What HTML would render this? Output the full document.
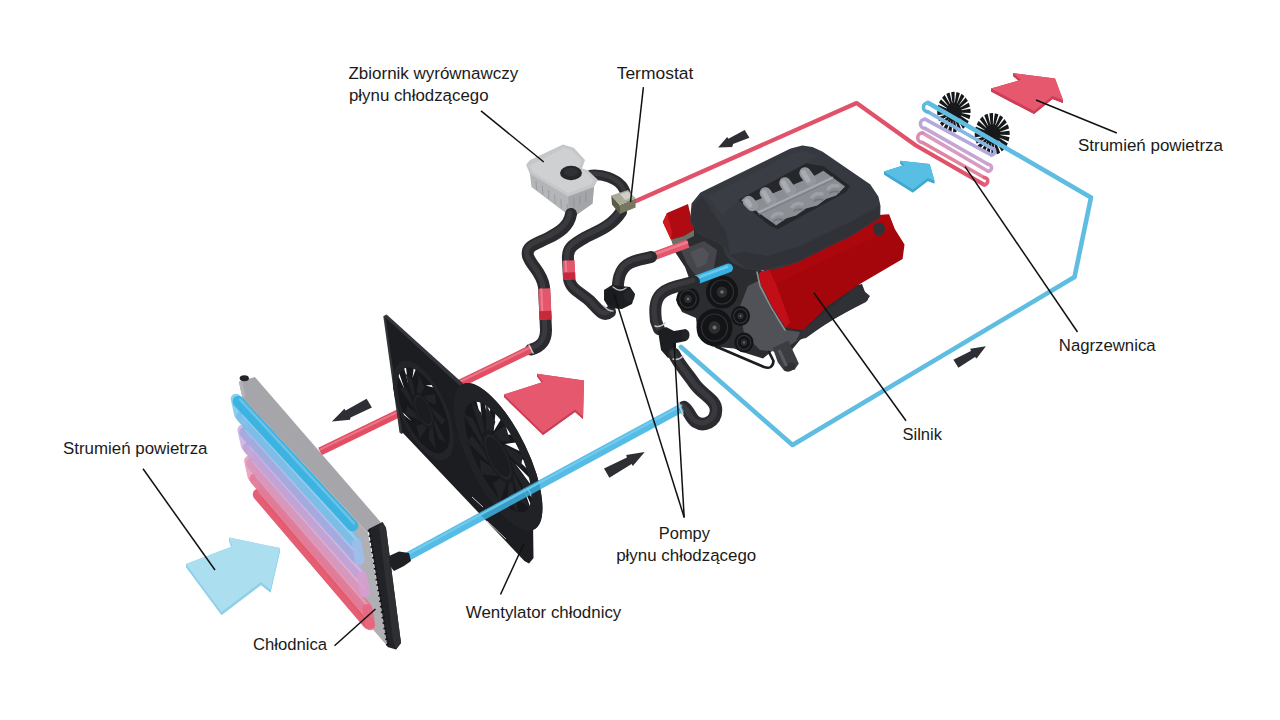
<!DOCTYPE html>
<html lang="pl"><head><meta charset="utf-8"><title>Układ chłodzenia silnika</title>
<style>html,body{margin:0;padding:0;background:#fff}svg{display:block}</style></head>
<body><svg width="1280" height="720" viewBox="0 0 1280 720">
<rect width="1280" height="720" fill="#ffffff"/>
<path d="M636,201 L856.6,103 L915.6,145.3 L984.2,184.7" fill="none" stroke="#e2516a" stroke-width="4.20" stroke-linecap="round" stroke-linejoin="round" />
<ellipse cx="953.9" cy="112.0" rx="16.7" ry="20.3" fill="#17181a" />
<polygon points="961.6,112.8 971.9,113.0 971.7,115.4 961.5,113.1" fill="#ffffff" />
<polygon points="961.0,115.6 970.8,119.7 970.0,121.9 960.9,115.9" fill="#ffffff" />
<polygon points="959.7,118.1 968.0,125.7 966.7,127.4 959.5,118.3" fill="#ffffff" />
<polygon points="957.9,120.0 963.8,130.3 962.1,131.5 957.6,120.2" fill="#ffffff" />
<polygon points="955.7,121.1 958.7,133.1 956.8,133.6 955.4,121.2" fill="#ffffff" />
<polygon points="953.3,121.3 953.1,133.9 951.1,133.7 953.0,121.3" fill="#ffffff" />
<polygon points="950.9,120.6 947.5,132.5 945.8,131.6 950.7,120.5" fill="#ffffff" />
<polygon points="948.9,119.1 942.6,129.1 941.2,127.6 948.7,118.9" fill="#ffffff" />
<polygon points="947.3,116.9 938.8,124.0 937.9,122.0 947.2,116.6" fill="#ffffff" />
<polygon points="946.4,114.2 936.5,117.8 936.1,115.5 946.4,113.8" fill="#ffffff" />
<polygon points="946.2,111.2 935.9,111.0 936.1,108.6 946.3,110.9" fill="#ffffff" />
<polygon points="946.8,108.4 937.0,104.3 937.8,102.1 946.9,108.1" fill="#ffffff" />
<polygon points="948.1,105.9 939.8,98.3 941.1,96.6 948.3,105.7" fill="#ffffff" />
<polygon points="949.9,104.0 944.0,93.7 945.7,92.5 950.2,103.8" fill="#ffffff" />
<polygon points="952.1,102.9 949.1,90.9 951.0,90.4 952.4,102.8" fill="#ffffff" />
<polygon points="954.5,102.7 954.7,90.1 956.7,90.3 954.8,102.7" fill="#ffffff" />
<polygon points="956.9,103.4 960.3,91.5 962.0,92.4 957.1,103.5" fill="#ffffff" />
<polygon points="958.9,104.9 965.2,94.9 966.6,96.4 959.1,105.1" fill="#ffffff" />
<polygon points="960.5,107.1 969.0,100.0 969.9,102.0 960.6,107.4" fill="#ffffff" />
<polygon points="961.4,109.8 971.3,106.2 971.7,108.5 961.4,110.2" fill="#ffffff" />
<ellipse cx="992.2" cy="134.0" rx="17.5" ry="21.0" fill="#17181a" />
<polygon points="1000.2,134.8 1011.1,135.1 1010.9,137.5 1000.2,135.1" fill="#ffffff" />
<polygon points="999.6,137.7 1009.9,142.0 1009.1,144.2 999.5,138.1" fill="#ffffff" />
<polygon points="998.3,140.3 1007.0,148.2 1005.6,150.0 998.1,140.6" fill="#ffffff" />
<polygon points="996.4,142.2 1002.6,152.9 1000.8,154.2 996.1,142.4" fill="#ffffff" />
<polygon points="994.1,143.4 997.2,155.9 995.2,156.4 993.8,143.5" fill="#ffffff" />
<polygon points="991.5,143.6 991.3,156.7 989.3,156.4 991.2,143.6" fill="#ffffff" />
<polygon points="989.1,142.9 985.5,155.2 983.7,154.2 988.8,142.8" fill="#ffffff" />
<polygon points="987.0,141.3 980.4,151.7 978.9,150.1 986.7,141.1" fill="#ffffff" />
<polygon points="985.3,139.0 976.4,146.5 975.4,144.4 985.2,138.7" fill="#ffffff" />
<polygon points="984.4,136.2 974.0,140.0 973.5,137.6 984.3,135.9" fill="#ffffff" />
<polygon points="984.2,133.2 973.3,132.9 973.5,130.5 984.2,132.9" fill="#ffffff" />
<polygon points="984.8,130.3 974.5,126.0 975.3,123.8 984.9,129.9" fill="#ffffff" />
<polygon points="986.1,127.7 977.4,119.8 978.8,118.0 986.3,127.4" fill="#ffffff" />
<polygon points="988.0,125.8 981.8,115.1 983.6,113.8 988.3,125.6" fill="#ffffff" />
<polygon points="990.3,124.6 987.2,112.1 989.2,111.6 990.6,124.5" fill="#ffffff" />
<polygon points="992.9,124.4 993.1,111.3 995.1,111.6 993.2,124.4" fill="#ffffff" />
<polygon points="995.3,125.1 998.9,112.8 1000.7,113.8 995.6,125.2" fill="#ffffff" />
<polygon points="997.4,126.7 1004.0,116.3 1005.5,117.9 997.7,126.9" fill="#ffffff" />
<polygon points="999.1,129.0 1008.0,121.5 1009.0,123.6 999.2,129.3" fill="#ffffff" />
<polygon points="1000.0,131.8 1010.4,128.0 1010.9,130.4 1000.1,132.1" fill="#ffffff" />
<line x1="922.5" y1="142.5" x2="984.2" y2="177.5" stroke="#e0849f" stroke-width="3.60" stroke-linecap="round"/>
<line x1="922.5" y1="132.9" x2="988.0" y2="171.3" stroke="#d79bc4" stroke-width="3.60" stroke-linecap="round"/>
<line x1="925.0" y1="128.4" x2="988.0" y2="164.2" stroke="#c5a4d6" stroke-width="3.60" stroke-linecap="round"/>
<line x1="925.0" y1="119.2" x2="991.3" y2="155.0" stroke="#b3a9dc" stroke-width="3.60" stroke-linecap="round"/>
<line x1="928.0" y1="111.9" x2="991.3" y2="148.0" stroke="#86b6e3" stroke-width="3.60" stroke-linecap="round"/>
<path d="M984.2,177.5 A3.60,3.60 0 0 1 984.2,184.7" fill="none" stroke="#e2607c" stroke-width="3.60" stroke-linecap="round" stroke-linejoin="round" />
<path d="M922.5,132.9 A4.80,4.80 0 0 0 922.5,142.5" fill="none" stroke="#dc8cb2" stroke-width="3.60" stroke-linecap="round" stroke-linejoin="round" />
<path d="M988.0,164.2 A3.55,3.55 0 0 1 988.0,171.3" fill="none" stroke="#cf9fcd" stroke-width="3.60" stroke-linecap="round" stroke-linejoin="round" />
<path d="M925.0,119.2 A4.60,4.60 0 0 0 925.0,128.4" fill="none" stroke="#bba6da" stroke-width="3.60" stroke-linecap="round" stroke-linejoin="round" />
<path d="M991.3,148.0 A3.50,3.50 0 0 1 991.3,155.0" fill="none" stroke="#a3addf" stroke-width="3.60" stroke-linecap="round" stroke-linejoin="round" />
<path d="M928.0,102.8 A4.55,4.55 0 0 0 928.0,111.9" fill="none" stroke="#5cb7e1" stroke-width="3.60" stroke-linecap="round" stroke-linejoin="round" />
<path d="M928,102.8 L1091,197.5 L1074.5,277 L792.5,445 L681,347" fill="none" stroke="#5fbde2" stroke-width="4.60" stroke-linecap="round" stroke-linejoin="round" />
<polygon points="702.0,220.0 692.0,226.0 671.0,238.0 675.0,252.0 685.0,267.0 689.0,278.0 680.0,290.0 676.0,300.0 682.0,312.0 696.0,318.0 698.0,336.0 712.0,346.5 734.0,348.5 747.0,353.5 763.0,358.5 772.0,351.0 790.0,352.0 800.0,340.0 836.0,318.0 868.0,300.0 862.0,284.0 780.0,300.0 760.0,268.0 740.0,248.0" fill="#2b2c30" />
<polygon points="748.0,286.0 760.0,280.0 772.0,312.0 786.0,330.0 800.0,332.0 798.0,340.0 780.0,352.0 760.0,350.0 744.0,334.0 740.0,306.0" fill="#505257" />
<polygon points="681.0,250.0 704.0,241.0 717.0,250.0 714.0,268.0 698.0,278.0 687.0,264.0" fill="#44464b" />
<polygon points="690.0,252.0 703.0,247.0 709.0,254.0 706.0,264.0 697.0,268.0" fill="#505257" />
<polygon points="803.0,330.0 858.0,286.0 870.0,296.0 866.0,302.0 834.0,318.0 806.0,338.0 796.0,340.0" fill="#303136" />
<polygon points="772.7,347.9 788.3,340.6 798.8,363.5 794.6,369.8 784.2,370.8 777.9,362.5" fill="#3c3d42" />
<ellipse cx="789.5" cy="367.2" rx="6.2" ry="4.0" fill="#303135" transform="rotate(-25 789.5 367.2)"/>
<line x1="779.0" y1="350.0" x2="786.5" y2="366.0" stroke="#585a5f" stroke-width="3.00" />
<path d="M716,346.5 L764,367 Q772.5,370 773.5,361 L769,352" fill="none" stroke="#1b1c1f" stroke-width="2.60" stroke-linecap="round" stroke-linejoin="round" />
<ellipse cx="688.0" cy="299.0" rx="11.5" ry="12.0" fill="#131416" />
<ellipse cx="688.0" cy="299.0" rx="8.3" ry="8.6" fill="none" stroke="#303136" stroke-width="1.2"/>
<ellipse cx="688.0" cy="299.0" rx="3.8" ry="4.0" fill="#2c2d31" />
<ellipse cx="688.0" cy="299.0" rx="1.3" ry="1.3" fill="#6f7175" />
<ellipse cx="722.0" cy="292.0" rx="16.0" ry="16.6" fill="#131416" />
<ellipse cx="722.0" cy="292.0" rx="11.5" ry="12.0" fill="none" stroke="#303136" stroke-width="1.2"/>
<ellipse cx="722.0" cy="292.0" rx="5.3" ry="5.6" fill="#2c2d31" />
<ellipse cx="722.0" cy="292.0" rx="1.8" ry="1.8" fill="#6f7175" />
<ellipse cx="714.5" cy="327.5" rx="18.0" ry="18.7" fill="#131416" />
<ellipse cx="714.5" cy="327.5" rx="13.0" ry="13.5" fill="none" stroke="#303136" stroke-width="1.2"/>
<ellipse cx="714.5" cy="327.5" rx="5.9" ry="6.3" fill="#2c2d31" />
<ellipse cx="714.5" cy="327.5" rx="2.0" ry="2.0" fill="#6f7175" />
<ellipse cx="740.5" cy="316.0" rx="9.5" ry="9.9" fill="#131416" />
<ellipse cx="740.5" cy="316.0" rx="6.8" ry="7.1" fill="none" stroke="#303136" stroke-width="1.2"/>
<ellipse cx="740.5" cy="316.0" rx="3.1" ry="3.3" fill="#2c2d31" />
<ellipse cx="740.5" cy="316.0" rx="1.0" ry="1.0" fill="#6f7175" />
<ellipse cx="744.0" cy="342.5" rx="9.5" ry="9.9" fill="#131416" />
<ellipse cx="744.0" cy="342.5" rx="6.8" ry="7.1" fill="none" stroke="#303136" stroke-width="1.2"/>
<ellipse cx="744.0" cy="342.5" rx="3.1" ry="3.3" fill="#2c2d31" />
<ellipse cx="744.0" cy="342.5" rx="1.0" ry="1.0" fill="#6f7175" />
<polygon points="662.8,221.9 667.0,213.0 688.0,204.0 694.0,230.0 684.0,236.0 671.0,239.7" fill="#b00a12" />
<polygon points="662.8,221.9 667.0,213.0 672.0,232.0 671.0,239.7" fill="#d01820" />
<polygon points="671.0,239.7 684.0,236.0 694.0,230.0 694.0,236.0 674.0,246.0" fill="#6d6f6a" />
<polygon points="758.6,273.6 768.4,268.0 879.2,215.0 889.0,214.5 894.8,229.0 904.5,244.5 902.6,259.0 857.8,285.3 826.7,306.7 803.4,330.0 785.9,328.0 772.2,306.7 760.6,283.4" fill="#a5060c" />
<polygon points="768.4,268.0 879.2,215.0 889.0,214.5 894.0,228.0 800.0,272.0 776.0,284.0 766.0,276.0" fill="#ac070d" />
<polygon points="758.6,273.6 768.4,268.0 776.0,284.0 790.0,322.0 785.9,328.0 772.2,306.7 760.6,283.4" fill="#c20e16" />
<path d="M757,272 L760,286 L772,309 L785,330" fill="none" stroke="#8d8f93" stroke-width="1.60" stroke-linecap="round" stroke-linejoin="round" />
<ellipse cx="879.0" cy="229.0" rx="6.0" ry="6.5" fill="#303236" />
<path d="M691.0,221.0 L692.5,204.0 L701.0,193.5 L708.0,190.0 L791.0,149.5 L802.5,146.5 L812.0,148.0 L822.8,153.0 L869.5,185.0 L877.5,197.0 L879.5,206.0 L879.2,217.5 L852.0,234.5 L815.0,252.5 L796.0,262.0 L777.5,267.5 L764.5,269.7 L745.0,267.8 L733.0,262.0 L727.5,256.0 L723.6,246.0 L716.0,241.0 L698.3,232.8 Z" fill="#363940" stroke="#363940" stroke-width="2" stroke-linejoin="round"/>
<polygon points="691.0,221.0 692.5,206.0 702.0,196.0 726.0,232.0 730.0,255.0 723.6,246.0 698.3,232.8" fill="#303237" />
<polygon points="730.0,255.0 745.0,267.8 764.5,269.7 796.0,262.0 852.0,234.5 879.2,217.5 879.5,206.0 850.0,222.0 800.0,246.0 768.0,256.0 744.0,252.0" fill="#303237" />
<polygon points="708.0,196.0 791.0,154.0 803.0,151.0 818.0,156.0 800.0,166.0 742.0,198.0 722.0,216.0" fill="#3a3d44" />
<polygon points="738.5,200.0 806.0,163.5 823.0,166.0 850.0,186.0 846.0,192.0 778.0,229.0 770.0,226.0" fill="#26272b" />
<polygon points="749.0,203.5 815.0,175.5 823.3,170.7 845.1,186.6 836.3,195.5 826.0,199.0 817.4,205.5 806.0,208.5 796.1,215.5 786.0,218.5 776.0,225.5 774.5,224.0 741.2,200.5 744.0,198.0" fill="#8b8e94" />
<path d="M748.5,201.5 L752.4,205.5" fill="none" stroke="#94979d" stroke-width="11.50" stroke-linecap="round" stroke-linejoin="round" />
<path d="M747.0,201.0 L749.9,205.2" fill="none" stroke="#a9acb2" stroke-width="5.00" stroke-linecap="round" stroke-linejoin="round" />
<path d="M765.4,193.0 L770.9,200.5" fill="none" stroke="#94979d" stroke-width="11.50" stroke-linecap="round" stroke-linejoin="round" />
<path d="M763.9,192.5 L768.4,200.2" fill="none" stroke="#a9acb2" stroke-width="5.00" stroke-linecap="round" stroke-linejoin="round" />
<path d="M784.9,183.0 L790.4,190.5" fill="none" stroke="#94979d" stroke-width="11.50" stroke-linecap="round" stroke-linejoin="round" />
<path d="M783.4,182.5 L787.9,190.2" fill="none" stroke="#a9acb2" stroke-width="5.00" stroke-linecap="round" stroke-linejoin="round" />
<path d="M805.0,173.0 L810.5,180.5" fill="none" stroke="#94979d" stroke-width="11.50" stroke-linecap="round" stroke-linejoin="round" />
<path d="M803.5,172.5 L808.0,180.2" fill="none" stroke="#a9acb2" stroke-width="5.00" stroke-linecap="round" stroke-linejoin="round" />
<line x1="758.0" y1="212.5" x2="833.0" y2="177.5" stroke="#a6a9af" stroke-width="2.20" />
<line x1="759.0" y1="214.5" x2="834.0" y2="179.5" stroke="#7b7e84" stroke-width="1.20" />
<path d="M772.0,217.0 q4,-5 10,-3" fill="none" stroke="#9da0a6" stroke-width="3.50" stroke-linecap="round" stroke-linejoin="round" />
<path d="M774.0,221.0 q4,-3 9,-1" fill="none" stroke="#777a80" stroke-width="2.00" stroke-linecap="round" stroke-linejoin="round" />
<path d="M792.0,207.0 q4,-5 10,-3" fill="none" stroke="#9da0a6" stroke-width="3.50" stroke-linecap="round" stroke-linejoin="round" />
<path d="M794.0,211.0 q4,-3 9,-1" fill="none" stroke="#777a80" stroke-width="2.00" stroke-linecap="round" stroke-linejoin="round" />
<path d="M812.0,197.0 q4,-5 10,-3" fill="none" stroke="#9da0a6" stroke-width="3.50" stroke-linecap="round" stroke-linejoin="round" />
<path d="M814.0,201.0 q4,-3 9,-1" fill="none" stroke="#777a80" stroke-width="2.00" stroke-linecap="round" stroke-linejoin="round" />
<path d="M828.0,189.0 q4,-5 10,-3" fill="none" stroke="#9da0a6" stroke-width="3.50" stroke-linecap="round" stroke-linejoin="round" />
<path d="M830.0,193.0 q4,-3 9,-1" fill="none" stroke="#777a80" stroke-width="2.00" stroke-linecap="round" stroke-linejoin="round" />
<line x1="650.0" y1="257.5" x2="688.0" y2="243.5" stroke="#e3566b" stroke-width="8.50" stroke-linecap="butt"/>
<line x1="650.0" y1="256.0" x2="688.0" y2="242.0" stroke="#ee7d8c" stroke-width="2.50" />
<line x1="692.0" y1="281.5" x2="728.5" y2="268.0" stroke="#36b1e2" stroke-width="9.00" stroke-linecap="round"/>
<line x1="693.0" y1="279.5" x2="728.0" y2="266.5" stroke="#6cc8ea" stroke-width="2.50" />
<path d="M591,175 C603,174 615,178 622,186 C625,190 626,193 626,197" fill="none" stroke="#2a2b2f" stroke-width="10.50" stroke-linecap="round" stroke-linejoin="round" />
<g transform="translate(-1.2,-1.2)">
<path d="M591,175 C603,174 615,178 622,186 C625,190 626,193 626,197" fill="none" stroke="#45464b" stroke-width="4.41" stroke-linecap="round" stroke-linejoin="round" opacity="0.55"/>
</g>
<polygon points="529.7,172.0 531.5,187.0 569.0,215.5 575.0,216.0 592.5,203.5 594.0,186.0 568.0,195.6" fill="#b4b5b8" />
<polygon points="568.0,195.6 594.0,186.0 592.5,203.5 575.0,216.0 569.0,215.5" fill="#a4a5a9" />
<line x1="536.0" y1="181.0" x2="536.6" y2="190.0" stroke="#9b9c9f" stroke-width="1.00" />
<line x1="542.2" y1="185.6" x2="542.8" y2="194.6" stroke="#9b9c9f" stroke-width="1.00" />
<line x1="548.4" y1="190.2" x2="549.0" y2="199.2" stroke="#9b9c9f" stroke-width="1.00" />
<line x1="554.6" y1="194.8" x2="555.2" y2="203.8" stroke="#9b9c9f" stroke-width="1.00" />
<line x1="560.8" y1="199.4" x2="561.4" y2="208.4" stroke="#9b9c9f" stroke-width="1.00" />
<line x1="567.0" y1="204.0" x2="567.6" y2="213.0" stroke="#9b9c9f" stroke-width="1.00" />
<line x1="574.0" y1="198.0" x2="573.7" y2="207.0" stroke="#929397" stroke-width="1.00" />
<line x1="580.0" y1="195.4" x2="579.7" y2="204.4" stroke="#929397" stroke-width="1.00" />
<line x1="586.0" y1="192.8" x2="585.7" y2="201.8" stroke="#929397" stroke-width="1.00" />
<polygon points="526.0,164.7 530.0,160.0 563.0,144.5 573.8,147.8 585.0,160.0 582.0,168.4 587.8,170.3 597.8,179.7 594.0,187.0 568.0,196.6 529.7,173.5" fill="#c6c7c9" />
<polygon points="529.5,165.8 564.0,148.0 572.0,150.3 581.5,160.5 578.5,169.5 586.0,172.0 593.5,180.0 591.0,184.5 568.0,193.0 533.0,172.5" fill="#cfd0d2" />
<ellipse cx="571.0" cy="173.0" rx="11.0" ry="7.2" fill="#26272a" />
<ellipse cx="571.0" cy="172.2" rx="7.0" ry="4.4" fill="#303135" />
<path d="M571,214 C569,226 560,232 548,238 C534,245 526,246 528,256 C531,266 542,272 544,287 L546,330 C546,342 540,347 531,349.5" fill="none" stroke="#2a2b2f" stroke-width="12.00" stroke-linecap="round" stroke-linejoin="round" />
<g transform="translate(-1.2,-1.2)">
<path d="M571,214 C569,226 560,232 548,238 C534,245 526,246 528,256 C531,266 542,272 544,287 L546,330 C546,342 540,347 531,349.5" fill="none" stroke="#45464b" stroke-width="5.04" stroke-linecap="round" stroke-linejoin="round" opacity="0.55"/>
</g>
<path d="M621,212 C612,226 598,231 586,237 C572,245 567,248 568,260 L569,279 C571,290 580,292 590,301 C598,309 603,318 610,312" fill="none" stroke="#2a2b2f" stroke-width="12.00" stroke-linecap="round" stroke-linejoin="round" />
<g transform="translate(-1.2,-1.2)">
<path d="M621,212 C612,226 598,231 586,237 C572,245 567,248 568,260 L569,279 C571,290 580,292 590,301 C598,309 603,318 610,312" fill="none" stroke="#45464b" stroke-width="5.04" stroke-linecap="round" stroke-linejoin="round" opacity="0.55"/>
</g>
<line x1="544.3" y1="288.5" x2="545.6" y2="319.5" stroke="#e3566b" stroke-width="12.00" stroke-linecap="butt"/>
<line x1="545.2" y1="311.0" x2="545.6" y2="319.5" stroke="#c8283c" stroke-width="12.00" stroke-linecap="butt"/>
<line x1="541.3" y1="288.5" x2="542.3" y2="311.0" stroke="#ee7d8c" stroke-width="2.00" />
<line x1="568.6" y1="260.5" x2="569.4" y2="279.5" stroke="#e3566b" stroke-width="12.00" stroke-linecap="butt"/>
<line x1="569.1" y1="272.5" x2="569.4" y2="279.5" stroke="#c8283c" stroke-width="12.00" stroke-linecap="butt"/>
<line x1="565.6" y1="260.5" x2="566.2" y2="272.0" stroke="#ee7d8c" stroke-width="2.00" />
<polygon points="611.2,195.6 619.7,205.0 619.7,214.0 612.0,204.5" fill="#5b5b48" />
<polygon points="619.7,205.0 635.6,198.4 635.6,207.5 619.7,214.0" fill="#77775f" />
<polygon points="611.2,195.6 628.0,190.0 635.6,198.4 619.7,205.0" fill="#a9a99a" />
<polygon points="620.0,194.0 628.0,191.5 633.0,197.5 625.0,200.0" fill="#cfcfc8" />
<path d="M618,294 C617,280 620,268 630,263 C638,259 644,259 651,257" fill="none" stroke="#2a2b2f" stroke-width="12.00" stroke-linecap="round" stroke-linejoin="round" />
<g transform="translate(-1.2,-1.2)">
<path d="M618,294 C617,280 620,268 630,263 C638,259 644,259 651,257" fill="none" stroke="#45464b" stroke-width="5.04" stroke-linecap="round" stroke-linejoin="round" opacity="0.55"/>
</g>
<polygon points="604.0,290.0 612.0,285.0 630.0,287.0 635.0,294.0 632.0,304.0 622.0,309.0 609.0,308.0 604.0,300.0" fill="#1d1e21" />
<ellipse cx="629.0" cy="296.0" rx="5.5" ry="6.5" fill="#242528" />
<ellipse cx="611.0" cy="297.0" rx="6.0" ry="8.0" fill="#1a1b1e" />
<path d="M613,287 Q620,293 626,288" fill="none" stroke="#b9bbbe" stroke-width="1.30" stroke-linecap="round" stroke-linejoin="round" />
<path d="M604,306 Q608,311 613,311" fill="none" stroke="#b9bbbe" stroke-width="1.30" stroke-linecap="round" stroke-linejoin="round" />
<path d="M694,281.5 C680,286 668,287 661,294 C654,301 655,312 656,321 L659,329" fill="none" stroke="#2a2b2f" stroke-width="12.00" stroke-linecap="round" stroke-linejoin="round" />
<g transform="translate(-1.2,-1.2)">
<path d="M694,281.5 C680,286 668,287 661,294 C654,301 655,312 656,321 L659,329" fill="none" stroke="#45464b" stroke-width="5.04" stroke-linecap="round" stroke-linejoin="round" opacity="0.55"/>
</g>
<path d="M655,326 Q660,328 665,323" fill="none" stroke="#c3c5c8" stroke-width="1.50" stroke-linecap="round" stroke-linejoin="round" />
<polygon points="658.0,331.0 666.0,327.0 674.0,331.0 686.0,329.0 689.0,336.0 686.0,341.0 676.0,343.0 676.0,354.0 668.0,358.0 661.0,350.0" fill="#1d1e21" />
<ellipse cx="685.5" cy="335.0" rx="4.0" ry="5.5" fill="#232427" />
<path d="M674,354 C680,366 688,374 694,383 C702,395 716,399 716,410 C716,422 704,427 696,422 C690,418 689,410 684,407" fill="none" stroke="#2a2b2f" stroke-width="12.50" stroke-linecap="round" stroke-linejoin="round" />
<g transform="translate(-1.2,-1.2)">
<path d="M674,354 C680,366 688,374 694,383 C702,395 716,399 716,410 C716,422 704,427 696,422 C690,418 689,410 684,407" fill="none" stroke="#45464b" stroke-width="5.25" stroke-linecap="round" stroke-linejoin="round" opacity="0.55"/>
</g>
<path d="M673,359 Q678,361 683,356" fill="none" stroke="#c3c5c8" stroke-width="1.50" stroke-linecap="round" stroke-linejoin="round" />
<path d="M679,403 L682,414" fill="none" stroke="#b7d3e6" stroke-width="2.00" stroke-linecap="round" stroke-linejoin="round" />
<line x1="320.0" y1="451.5" x2="531.0" y2="349.0" stroke="#e24f65" stroke-width="8.10" stroke-linecap="butt"/>
<line x1="320.0" y1="449.6" x2="531.0" y2="347.1" stroke="#ea7686" stroke-width="2.00" />
<path d="M529,345 L533,353" fill="none" stroke="#c9cbce" stroke-width="1.60" stroke-linecap="round" stroke-linejoin="round" />
<polygon points="383.3,316.3 386.6,314.6 467.5,387.5 465.0,391.0 401.5,434.0 399.5,432.5" fill="#34353a" />
<polygon points="385.6,317.8 465.0,390.5 505.0,440.0 533.0,520.0 533.5,558.0 529.0,563.5 524.4,561.0 402.0,432.0" fill="#1c1d21" />
<g transform="matrix(30.00 22.00 5.00 44.80 423.50 410.50)">
<circle r="1" fill="#17181b"/>
<polygon points="-0.774,-0.397 -0.731,-0.472 -0.597,-0.168" fill="#ffffff"/>
<polygon points="-0.534,-0.687 -0.463,-0.737 -0.447,-0.385" fill="#ffffff"/>
<polygon points="-0.185,-0.850 -0.117,-0.862 -0.268,-0.592" fill="#ffffff"/>
<polygon points="0.408,-0.768 0.461,-0.738 0.181,-0.645" fill="#ffffff"/>
<polygon points="-0.740,0.457 -0.766,0.412 -0.479,0.468" fill="#ffffff"/>
<polygon points="0.360,0.000 0.685,0.374 0.439,0.409 0.324,0.157" fill="#222327"/>
<polygon points="0.276,0.231 0.284,0.726 0.073,0.595 0.148,0.328" fill="#222327"/>
<polygon points="0.063,0.355 -0.249,0.739 -0.327,0.503 -0.098,0.346" fill="#222327"/>
<polygon points="-0.180,0.312 -0.666,0.406 -0.574,0.176 -0.298,0.202" fill="#222327"/>
<polygon points="-0.338,0.123 -0.771,-0.117 -0.552,-0.234 -0.358,-0.036" fill="#222327"/>
<polygon points="-0.338,-0.123 -0.515,-0.586 -0.273,-0.534 -0.251,-0.258" fill="#222327"/>
<polygon points="-0.180,-0.312 -0.018,-0.780 0.135,-0.585 -0.026,-0.359" fill="#222327"/>
<polygon points="0.063,-0.355 0.487,-0.609 0.479,-0.361 0.210,-0.292" fill="#222327"/>
<polygon points="0.276,-0.231 0.765,-0.154 0.599,0.031 0.349,-0.088" fill="#222327"/>
<circle r="0.930" fill="none" stroke="#232428" stroke-width="0.140"/>
<circle r="0.360" fill="#1b1c20"/>
<circle r="0.288" fill="none" stroke="#26272b" stroke-width="0.03"/>
</g>
<g transform="matrix(44.00 43.00 6.00 60.00 498.00 457.00)">
<circle r="1" fill="#17181b"/>
<polygon points="-0.403,-0.644 -0.309,-0.694 -0.310,-0.340" fill="#ffffff"/>
<polygon points="-0.191,-0.736 -0.072,-0.757 -0.165,-0.364" fill="#ffffff"/>
<polygon points="0.045,-0.759 0.166,-0.742 -0.044,-0.398" fill="#ffffff"/>
<polygon points="0.278,-0.708 0.387,-0.654 0.085,-0.411" fill="#ffffff"/>
<polygon points="0.483,-0.587 0.570,-0.503 0.208,-0.365" fill="#ffffff"/>
<polygon points="0.642,-0.406 0.696,-0.306 0.325,-0.296" fill="#ffffff"/>
<polygon points="0.737,-0.184 0.756,-0.079 0.419,-0.189" fill="#ffffff"/>
<polygon points="0.758,0.060 0.745,0.151 0.497,-0.055" fill="#ffffff"/>
<polygon points="0.706,0.281 0.681,0.337 0.552,0.094" fill="#ffffff"/>
<polygon points="0.360,0.000 0.685,0.374 0.439,0.409 0.324,0.157" fill="#222327"/>
<polygon points="0.303,0.195 0.374,0.685 0.148,0.581 0.188,0.307" fill="#222327"/>
<polygon points="0.150,0.327 -0.056,0.778 -0.190,0.569 -0.008,0.360" fill="#222327"/>
<polygon points="-0.051,0.356 -0.468,0.624 -0.467,0.376 -0.201,0.299" fill="#222327"/>
<polygon points="-0.236,0.272 -0.731,0.272 -0.597,0.064 -0.331,0.142" fill="#222327"/>
<polygon points="-0.345,0.101 -0.762,-0.166 -0.536,-0.269 -0.355,-0.059" fill="#222327"/>
<polygon points="-0.345,-0.101 -0.551,-0.552 -0.306,-0.516 -0.267,-0.242" fill="#222327"/>
<polygon points="-0.236,-0.272 -0.166,-0.762 0.022,-0.600 -0.094,-0.348" fill="#222327"/>
<polygon points="-0.051,-0.356 0.273,-0.731 0.342,-0.493 0.109,-0.343" fill="#222327"/>
<polygon points="0.150,-0.327 0.625,-0.467 0.554,-0.229 0.277,-0.230" fill="#222327"/>
<polygon points="0.303,-0.195 0.778,-0.055 0.590,0.107 0.357,-0.044" fill="#222327"/>
<circle r="0.875" fill="none" stroke="#212226" stroke-width="0.250"/>
<circle r="0.360" fill="#1b1c20"/>
<circle r="0.288" fill="none" stroke="#26272b" stroke-width="0.03"/>
</g>
<line x1="472.0" y1="497.0" x2="483.0" y2="507.0" stroke="#d8d8da" stroke-width="0.90" />
<line x1="487.0" y1="521.0" x2="506.0" y2="539.0" stroke="#d8d8da" stroke-width="0.90" />
<line x1="404.0" y1="558.6" x2="682.0" y2="407.6" stroke="#3bb2e2" stroke-width="8.80" stroke-linecap="butt" opacity="0.86"/>
<line x1="404.0" y1="556.2" x2="682.0" y2="405.2" stroke="#74cdee" stroke-width="2.20" opacity="0.9"/>
<path d="M678.5,404 L683,414" fill="none" stroke="#c9cbce" stroke-width="1.60" stroke-linecap="round" stroke-linejoin="round" />
<polygon points="242.4,397.8 368.0,533.0 388.0,647.0 262.0,500.0" fill="#b0b0b4" />
<line x1="252.8" y1="476.4" x2="249.4" y2="460.9" stroke="#e58aa8" stroke-width="10.5" stroke-linecap="round" opacity="0.75"/>
<line x1="246.1" y1="445.4" x2="242.7" y2="429.9" stroke="#c3a3dc" stroke-width="10.5" stroke-linecap="round" opacity="0.75"/>
<line x1="239.4" y1="414.4" x2="236.0" y2="398.9" stroke="#62c1ea" stroke-width="10.5" stroke-linecap="round" opacity="0.75"/>
<line x1="258.5" y1="494.5" x2="368.5" y2="623.5" stroke="#e4566c" stroke-width="11.5" stroke-linecap="round" opacity="0.95"/>
<line x1="260.0" y1="492.3" x2="370.0" y2="621.3" stroke="#ffffff" stroke-width="2.5" stroke-linecap="round" opacity="0.22"/>
<line x1="255.2" y1="479.0" x2="365.8" y2="607.2" stroke="#e27c9a" stroke-width="11.5" stroke-linecap="round" opacity="0.95"/>
<line x1="256.6" y1="476.8" x2="367.3" y2="605.0" stroke="#ffffff" stroke-width="2.5" stroke-linecap="round" opacity="0.22"/>
<line x1="251.8" y1="463.5" x2="363.2" y2="590.8" stroke="#d998bf" stroke-width="11.5" stroke-linecap="round" opacity="0.95"/>
<line x1="253.3" y1="461.3" x2="364.7" y2="588.6" stroke="#ffffff" stroke-width="2.5" stroke-linecap="round" opacity="0.22"/>
<line x1="248.4" y1="448.0" x2="360.5" y2="574.5" stroke="#c3a3d8" stroke-width="11.5" stroke-linecap="round" opacity="0.95"/>
<line x1="249.9" y1="445.8" x2="362.0" y2="572.3" stroke="#ffffff" stroke-width="2.5" stroke-linecap="round" opacity="0.22"/>
<line x1="245.1" y1="432.5" x2="357.8" y2="558.2" stroke="#a3abe1" stroke-width="11.5" stroke-linecap="round" opacity="0.95"/>
<line x1="246.6" y1="430.3" x2="359.3" y2="556.0" stroke="#ffffff" stroke-width="2.5" stroke-linecap="round" opacity="0.22"/>
<line x1="241.8" y1="417.0" x2="355.2" y2="541.8" stroke="#7bbfea" stroke-width="11.5" stroke-linecap="round" opacity="0.95"/>
<line x1="243.2" y1="414.8" x2="356.7" y2="539.6" stroke="#ffffff" stroke-width="2.5" stroke-linecap="round" opacity="0.22"/>
<line x1="238.4" y1="401.5" x2="352.5" y2="525.5" stroke="#38b3e3" stroke-width="11.5" stroke-linecap="round" opacity="0.95"/>
<line x1="239.9" y1="399.3" x2="354.0" y2="523.3" stroke="#ffffff" stroke-width="2.5" stroke-linecap="round" opacity="0.22"/>
<line x1="370.2" y1="625.3" x2="367.5" y2="609.0" stroke="#e8677f" stroke-width="10.0" stroke-linecap="round" opacity="0.85"/>
<line x1="364.9" y1="592.7" x2="362.2" y2="576.3" stroke="#d6a0cf" stroke-width="10.0" stroke-linecap="round" opacity="0.85"/>
<line x1="359.5" y1="560.0" x2="356.9" y2="543.7" stroke="#9fc0ee" stroke-width="10.0" stroke-linecap="round" opacity="0.85"/>
<polygon points="238.9,381.8 254.9,377.0 381.0,522.5 368.0,533.0 242.4,397.8" fill="#a6a6aa" />
<polygon points="238.9,381.8 242.0,381.0 245.5,396.5 242.4,397.8" fill="#b4b4b8" />
<ellipse cx="244.3" cy="378.2" rx="4.6" ry="3.0" fill="#232427" />
<polygon points="368.5,529.0 382.5,522.0 386.0,528.0 401.0,643.0 396.0,649.5 387.5,647.0" fill="#222326" />
<polygon points="382.5,522.0 386.0,528.0 401.0,643.0 396.0,649.5 393.0,640.0 379.0,527.0" fill="#2e2f33" />
<line x1="367.8" y1="531.0" x2="370.5" y2="530.2" stroke="#0f1012" stroke-width="1.60" />
<line x1="368.7" y1="536.4" x2="371.4" y2="535.6" stroke="#0f1012" stroke-width="1.60" />
<line x1="369.5" y1="541.9" x2="372.2" y2="541.1" stroke="#0f1012" stroke-width="1.60" />
<line x1="370.4" y1="547.3" x2="373.1" y2="546.5" stroke="#0f1012" stroke-width="1.60" />
<line x1="371.3" y1="552.7" x2="374.0" y2="551.9" stroke="#0f1012" stroke-width="1.60" />
<line x1="372.2" y1="558.1" x2="374.9" y2="557.3" stroke="#0f1012" stroke-width="1.60" />
<line x1="373.0" y1="563.6" x2="375.7" y2="562.8" stroke="#0f1012" stroke-width="1.60" />
<line x1="373.9" y1="569.0" x2="376.6" y2="568.2" stroke="#0f1012" stroke-width="1.60" />
<line x1="374.8" y1="574.4" x2="377.5" y2="573.6" stroke="#0f1012" stroke-width="1.60" />
<line x1="375.6" y1="579.9" x2="378.3" y2="579.1" stroke="#0f1012" stroke-width="1.60" />
<line x1="376.5" y1="585.3" x2="379.2" y2="584.5" stroke="#0f1012" stroke-width="1.60" />
<line x1="377.4" y1="590.7" x2="380.1" y2="589.9" stroke="#0f1012" stroke-width="1.60" />
<line x1="378.3" y1="596.1" x2="381.0" y2="595.3" stroke="#0f1012" stroke-width="1.60" />
<line x1="379.1" y1="601.6" x2="381.8" y2="600.8" stroke="#0f1012" stroke-width="1.60" />
<line x1="380.0" y1="607.0" x2="382.7" y2="606.2" stroke="#0f1012" stroke-width="1.60" />
<line x1="380.9" y1="612.4" x2="383.6" y2="611.6" stroke="#0f1012" stroke-width="1.60" />
<line x1="381.7" y1="617.9" x2="384.4" y2="617.1" stroke="#0f1012" stroke-width="1.60" />
<line x1="382.6" y1="623.3" x2="385.3" y2="622.5" stroke="#0f1012" stroke-width="1.60" />
<line x1="383.5" y1="628.7" x2="386.2" y2="627.9" stroke="#0f1012" stroke-width="1.60" />
<line x1="384.4" y1="634.1" x2="387.1" y2="633.3" stroke="#0f1012" stroke-width="1.60" />
<line x1="385.2" y1="639.6" x2="387.9" y2="638.8" stroke="#0f1012" stroke-width="1.60" />
<line x1="386.1" y1="645.0" x2="388.8" y2="644.2" stroke="#0f1012" stroke-width="1.60" />
<polygon points="389.0,556.0 399.0,551.5 409.0,553.0 411.0,561.0 404.0,566.0 394.0,571.0 390.0,566.0" fill="#1f2023" />
<polygon points="718.1,147.5 727.2,136.9 728.4,138.8 744.7,130.0 749.4,137.8 733.1,144.0 732.2,146.9" fill="#2e2f34" />
<polygon points="331.9,421.6 344.4,408.8 345.6,410.6 366.6,398.8 371.9,407.5 350.6,417.5 350.0,419.7" fill="#2e2f34" />
<polygon points="644.7,451.9 626.2,455.0 626.9,457.5 604.0,468.4 609.4,477.8 631.6,464.0 632.8,466.0" fill="#2e2f34" />
<polygon points="985.9,346.2 970.3,348.8 970.9,350.9 953.4,359.7 958.4,367.8 975.0,356.9 976.6,358.6" fill="#2e2f34" />
<polygon points="186.0,567.0 232.0,549.5 229.0,540.5 280.0,551.0 270.5,592.5 261.0,585.0 221.5,615.0" fill="#8fd0e8" />
<polygon points="186.0,564.0 232.0,546.5 232.0,549.5 186.0,567.0" fill="#8fd0e8" />
<polygon points="232.0,546.5 229.0,537.5 229.0,540.5 232.0,549.5" fill="#8fd0e8" />
<polygon points="229.0,537.5 280.0,548.0 280.0,551.0 229.0,540.5" fill="#8fd0e8" />
<polygon points="280.0,548.0 270.5,589.5 270.5,592.5 280.0,551.0" fill="#8fd0e8" />
<polygon points="270.5,589.5 261.0,582.0 261.0,585.0 270.5,592.5" fill="#8fd0e8" />
<polygon points="261.0,582.0 221.5,612.0 221.5,615.0 261.0,585.0" fill="#8fd0e8" />
<polygon points="221.5,612.0 186.0,564.0 186.0,567.0 221.5,615.0" fill="#8fd0e8" />
<polygon points="186.0,564.0 232.0,546.5 229.0,537.5 280.0,548.0 270.5,589.5 261.0,582.0 221.5,612.0" fill="#abdff0" />
<polygon points="504.0,397.0 543.0,384.5 537.0,376.3 584.0,383.0 583.0,419.0 575.0,412.0 543.0,435.0" fill="#cc3f56" />
<polygon points="504.0,394.5 543.0,382.0 543.0,384.5 504.0,397.0" fill="#cc3f56" />
<polygon points="543.0,382.0 537.0,373.8 537.0,376.3 543.0,384.5" fill="#cc3f56" />
<polygon points="537.0,373.8 584.0,380.5 584.0,383.0 537.0,376.3" fill="#cc3f56" />
<polygon points="584.0,380.5 583.0,416.5 583.0,419.0 584.0,383.0" fill="#cc3f56" />
<polygon points="583.0,416.5 575.0,409.5 575.0,412.0 583.0,419.0" fill="#cc3f56" />
<polygon points="575.0,409.5 543.0,432.5 543.0,435.0 575.0,412.0" fill="#cc3f56" />
<polygon points="543.0,432.5 504.0,394.5 504.0,397.0 543.0,435.0" fill="#cc3f56" />
<polygon points="504.0,394.5 543.0,382.0 537.0,373.8 584.0,380.5 583.0,416.5 575.0,409.5 543.0,432.5" fill="#e5586d" />
<polygon points="991.0,91.5 1021.0,82.8 1013.0,76.0 1055.0,81.5 1063.0,103.0 1052.5,99.0 1034.0,114.0" fill="#cc3f56" />
<polygon points="991.0,88.5 1021.0,79.8 1021.0,82.8 991.0,91.5" fill="#cc3f56" />
<polygon points="1021.0,79.8 1013.0,73.0 1013.0,76.0 1021.0,82.8" fill="#cc3f56" />
<polygon points="1013.0,73.0 1055.0,78.5 1055.0,81.5 1013.0,76.0" fill="#cc3f56" />
<polygon points="1055.0,78.5 1063.0,100.0 1063.0,103.0 1055.0,81.5" fill="#cc3f56" />
<polygon points="1063.0,100.0 1052.5,96.0 1052.5,99.0 1063.0,103.0" fill="#cc3f56" />
<polygon points="1052.5,96.0 1034.0,111.0 1034.0,114.0 1052.5,99.0" fill="#cc3f56" />
<polygon points="1034.0,111.0 991.0,88.5 991.0,91.5 1034.0,114.0" fill="#cc3f56" />
<polygon points="991.0,88.5 1021.0,79.8 1013.0,73.0 1055.0,78.5 1063.0,100.0 1052.5,96.0 1034.0,111.0" fill="#e5586d" />
<polygon points="884.0,174.5 904.4,168.0 900.3,163.8 929.7,167.0 934.4,183.5 927.8,181.0 912.8,192.5" fill="#3da9d3" />
<polygon points="884.0,171.5 904.4,165.0 904.4,168.0 884.0,174.5" fill="#3da9d3" />
<polygon points="904.4,165.0 900.3,160.8 900.3,163.8 904.4,168.0" fill="#3da9d3" />
<polygon points="900.3,160.8 929.7,164.0 929.7,167.0 900.3,163.8" fill="#3da9d3" />
<polygon points="929.7,164.0 934.4,180.5 934.4,183.5 929.7,167.0" fill="#3da9d3" />
<polygon points="934.4,180.5 927.8,178.0 927.8,181.0 934.4,183.5" fill="#3da9d3" />
<polygon points="927.8,178.0 912.8,189.5 912.8,192.5 927.8,181.0" fill="#3da9d3" />
<polygon points="912.8,189.5 884.0,171.5 884.0,174.5 912.8,192.5" fill="#3da9d3" />
<polygon points="884.0,171.5 904.4,165.0 900.3,160.8 929.7,164.0 934.4,180.5 927.8,178.0 912.8,189.5" fill="#58bee3" />
<line x1="143.0" y1="468.8" x2="215.0" y2="570.0" stroke="#111" stroke-width="1.50" />
<line x1="334.5" y1="645.8" x2="375.5" y2="609.0" stroke="#111" stroke-width="1.50" />
<line x1="500.5" y1="594.5" x2="523.8" y2="543.8" stroke="#111" stroke-width="1.50" />
<line x1="684.2" y1="517.5" x2="614.0" y2="294.0" stroke="#111" stroke-width="1.50" />
<line x1="684.2" y1="517.5" x2="674.0" y2="342.5" stroke="#111" stroke-width="1.50" />
<line x1="906.0" y1="420.8" x2="813.8" y2="292.8" stroke="#111" stroke-width="1.50" />
<line x1="1077.5" y1="332.0" x2="965.0" y2="166.7" stroke="#111" stroke-width="1.50" />
<line x1="1116.8" y1="133.0" x2="1036.0" y2="100.0" stroke="#111" stroke-width="1.50" />
<line x1="481.0" y1="110.9" x2="543.8" y2="162.0" stroke="#111" stroke-width="1.50" />
<line x1="643.4" y1="87.1" x2="630.5" y2="202.0" stroke="#111" stroke-width="1.50" />
<g font-family="'Liberation Sans', sans-serif" font-size="16.7" fill="#1a1a1a">
<text x="63.0" y="453.6" textLength="144.5" lengthAdjust="spacingAndGlyphs" text-anchor="start">Strumień powietrza</text>
<text x="253.0" y="649.5" textLength="74.0" lengthAdjust="spacingAndGlyphs" text-anchor="start">Chłodnica</text>
<text x="465.8" y="618.0" textLength="155.5" lengthAdjust="spacingAndGlyphs" text-anchor="start">Wentylator chłodnicy</text>
<text x="658.8" y="539.0" textLength="51.2" lengthAdjust="spacingAndGlyphs" text-anchor="start">Pompy</text>
<text x="616.2" y="561.2" textLength="140.0" lengthAdjust="spacingAndGlyphs" text-anchor="start">płynu chłodzącego</text>
<text x="902.5" y="439.5" textLength="39.5" lengthAdjust="spacingAndGlyphs" text-anchor="start">Silnik</text>
<text x="1058.8" y="350.5" textLength="96.8" lengthAdjust="spacingAndGlyphs" text-anchor="start">Nagrzewnica</text>
<text x="1078.0" y="151.2" textLength="145.0" lengthAdjust="spacingAndGlyphs" text-anchor="start">Strumień powietrza</text>
<text x="348.5" y="79.1" textLength="169.7" lengthAdjust="spacingAndGlyphs" text-anchor="start">Zbiornik wyrównawczy</text>
<text x="349.0" y="100.5" textLength="139.5" lengthAdjust="spacingAndGlyphs" text-anchor="start">płynu chłodzącego</text>
<text x="616.7" y="79.1" textLength="76.6" lengthAdjust="spacingAndGlyphs" text-anchor="start">Termostat</text>
</g>
</svg></body></html>
